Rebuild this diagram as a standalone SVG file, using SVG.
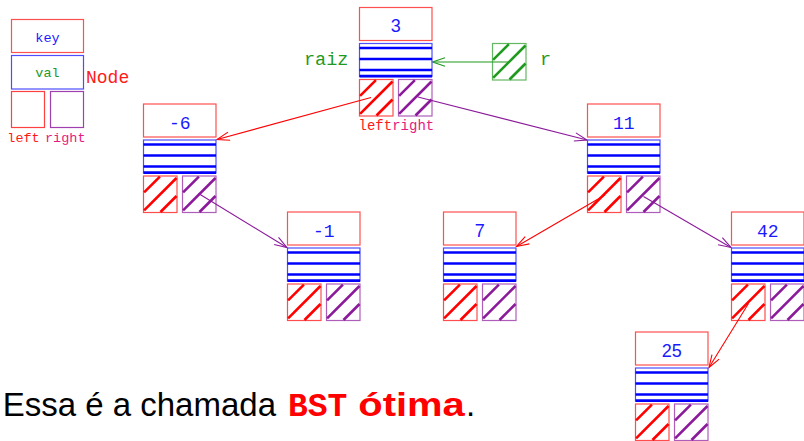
<svg xmlns="http://www.w3.org/2000/svg" xmlns:xlink="http://www.w3.org/1999/xlink" width="804" height="441" viewBox="0 0 804 441">
<style>
  .keybox { fill: none; stroke: #ff5050; stroke-width: 1.2; }
  .valbox { fill: none; stroke: #4d4dff; stroke-width: 1.2; }
  .valline { stroke: #0000ff; stroke-width: 2.6; }
  .hb { fill: none; stroke: currentColor; stroke-opacity: 0.7; stroke-width: 1.2; }
  .hl { stroke: currentColor; stroke-width: 2.6; }
  .red { color: #ff0000; }
  .pur { color: #8b1a9b; }
  .grn { color: #1f9a1f; }
  .mono { font-family: "Liberation Mono", "DejaVu Sans Mono", monospace; }
  .sans { font-family: "Liberation Sans", Arial, sans-serif; }
  .kt { fill: #1a1aff; font-size: 18px; text-anchor: middle; }
  .conn { fill: none; stroke-width: 1.1; }
</style>
<defs>
  <marker id="ahR" markerUnits="userSpaceOnUse" markerWidth="16" markerHeight="12" refX="13" refY="5" orient="auto">
    <path d="M0.5,0.8 L13,5 L0.5,9.2" fill="none" stroke="#ff0000" stroke-width="1.1"/>
  </marker>
  <marker id="ahP" markerUnits="userSpaceOnUse" markerWidth="16" markerHeight="12" refX="13" refY="5" orient="auto">
    <path d="M0.5,0.8 L13,5 L0.5,9.2" fill="none" stroke="#8b1a9b" stroke-width="1.1"/>
  </marker>
  <marker id="ahG" markerUnits="userSpaceOnUse" markerWidth="16" markerHeight="12" refX="13" refY="5" orient="auto">
    <path d="M0.5,0.8 L13,5 L0.5,9.2" fill="none" stroke="#1f9a1f" stroke-width="1.1"/>
  </marker>
  <g id="hatch">
    <rect class="hb" x="0" y="0" width="33.5" height="36.5"/>
    <line class="hl" x1="0.6" y1="16.4" x2="16.4" y2="0.6"/>
    <line class="hl" x1="0.6" y1="34.4" x2="33" y2="2"/>
    <line class="hl" x1="17" y1="36" x2="33" y2="20"/>
  </g>
  <g id="nodeBody">
    <rect class="keybox" x="0" y="0" width="72.5" height="33"/>
    <rect class="valbox" x="0" y="36" width="72.5" height="33"/>
    <line class="valline" x1="0" y1="40.5" x2="72.5" y2="40.5"/>
    <line class="valline" x1="0" y1="51.5" x2="72.5" y2="51.5"/>
    <line class="valline" x1="0" y1="62.5" x2="72.5" y2="62.5"/>
    <line class="valline" x1="0" y1="68.6" x2="72.5" y2="68.6" stroke-width="1.6"/>
    <use xlink:href="#hatch" href="#hatch" class="red" x="0" y="72"/>
    <use xlink:href="#hatch" href="#hatch" class="pur" x="39" y="72"/>
  </g>
</defs>
<rect x="0" y="0" width="804" height="441" fill="#ffffff"/>

<g id="legend">
  <rect class="keybox" x="11.5" y="19.5" width="72" height="33"/>
  <rect class="valbox" x="11.5" y="55.5" width="72" height="33.5"/>
  <rect x="11.5" y="91.5" width="33" height="36" fill="none" stroke="#ff4040" stroke-width="1.2"/>
  <rect x="50.5" y="91.5" width="33" height="36" fill="none" stroke="#a040b0" stroke-width="1.2"/>
  <text class="mono" x="47.5" y="41.5" font-size="13.5" fill="#1a1aff" text-anchor="middle">key</text>
  <text class="mono" x="47.5" y="77" font-size="13.5" fill="#1f9a1f" text-anchor="middle">val</text>
  <text class="mono" x="86" y="82.5" font-size="18" fill="#ff1a1a">Node</text>
  <text class="mono" x="7.3" y="141.5" font-size="13.5" fill="#ff1a1a">left</text>
  <text class="mono" x="45" y="141.5" font-size="13.5" fill="#e8197f">right</text>
</g>

<g id="connectors">
  <line class="conn" x1="508" y1="62" x2="432.5" y2="62" stroke="#1f9a1f" marker-end="url(#ahG)"/>
  <line class="conn" x1="371" y1="97.5" x2="217" y2="139.5" stroke="#ff0000" marker-end="url(#ahR)"/>
  <line class="conn" x1="418" y1="97" x2="587" y2="140" stroke="#8b1a9b" marker-end="url(#ahP)"/>
  <line class="conn" x1="198.5" y1="193.5" x2="287" y2="247.5" stroke="#8b1a9b" marker-end="url(#ahP)"/>
  <line class="conn" x1="605" y1="195" x2="516.5" y2="246.5" stroke="#ff0000" marker-end="url(#ahR)"/>
  <line class="conn" x1="643.5" y1="196.5" x2="731" y2="247.5" stroke="#8b1a9b" marker-end="url(#ahP)"/>
  <line class="conn" x1="748.5" y1="303.5" x2="709" y2="367.5" stroke="#ff0000" marker-end="url(#ahR)"/>
</g>

<g id="node-3" transform="translate(359.5,7.5)">
  <use xlink:href="#nodeBody" href="#nodeBody"/>
  <text class="sans kt" x="36.25" y="24.5">3</text>
</g>
<g id="root-labels">
  <text class="mono" x="304" y="65" font-size="18.5" fill="#1f9a1f">raiz</text>
  <text class="mono" x="358.5" y="130" font-size="14" fill="#ff1a1a">left</text>
  <text class="mono" x="392.2" y="130" font-size="14" fill="#e8197f">right</text>
</g>
<g id="pointer-r">
  <use xlink:href="#hatch" href="#hatch" class="grn" x="492.5" y="43.5"/>
  <text class="mono" x="540" y="65" font-size="18.5" fill="#1f9a1f">r</text>
</g>
<g id="node-m6" transform="translate(143.5,104)">
  <use xlink:href="#nodeBody" href="#nodeBody"/>
  <text class="mono kt" x="36.25" y="24.5">-6</text>
</g>
<g id="node-11" transform="translate(587.5,104)">
  <use xlink:href="#nodeBody" href="#nodeBody"/>
  <text class="mono kt" x="36.25" y="24.5">11</text>
</g>
<g id="node-m1" transform="translate(287.5,212)">
  <use xlink:href="#nodeBody" href="#nodeBody"/>
  <text class="mono kt" x="36.25" y="24.5">-1</text>
</g>
<g id="node-7" transform="translate(443.5,212)">
  <use xlink:href="#nodeBody" href="#nodeBody"/>
  <text class="sans kt" x="36.25" y="24.5">7</text>
</g>
<g id="node-42" transform="translate(731.5,212)">
  <use xlink:href="#nodeBody" href="#nodeBody"/>
  <text class="mono kt" x="36.25" y="24.5">42</text>
</g>
<g id="node-25" transform="translate(635.5,332)">
  <use xlink:href="#nodeBody" href="#nodeBody"/>
  <text class="sans kt" x="36.25" y="24.5">25</text>
</g>

<g id="caption">
  <text class="sans" x="2.7" y="416" font-size="33" fill="#000000">Essa é a chamada</text>
  <text class="mono" x="288" y="416" font-size="33" font-weight="bold" fill="#ff0000">BST</text>
  <text class="sans" x="358.3" y="416" font-size="33" font-weight="bold" fill="#ff0000" textLength="106.5" lengthAdjust="spacingAndGlyphs">ótima</text>
  <text class="sans" x="466" y="416" font-size="33" fill="#000000">.</text>
</g>
</svg>
